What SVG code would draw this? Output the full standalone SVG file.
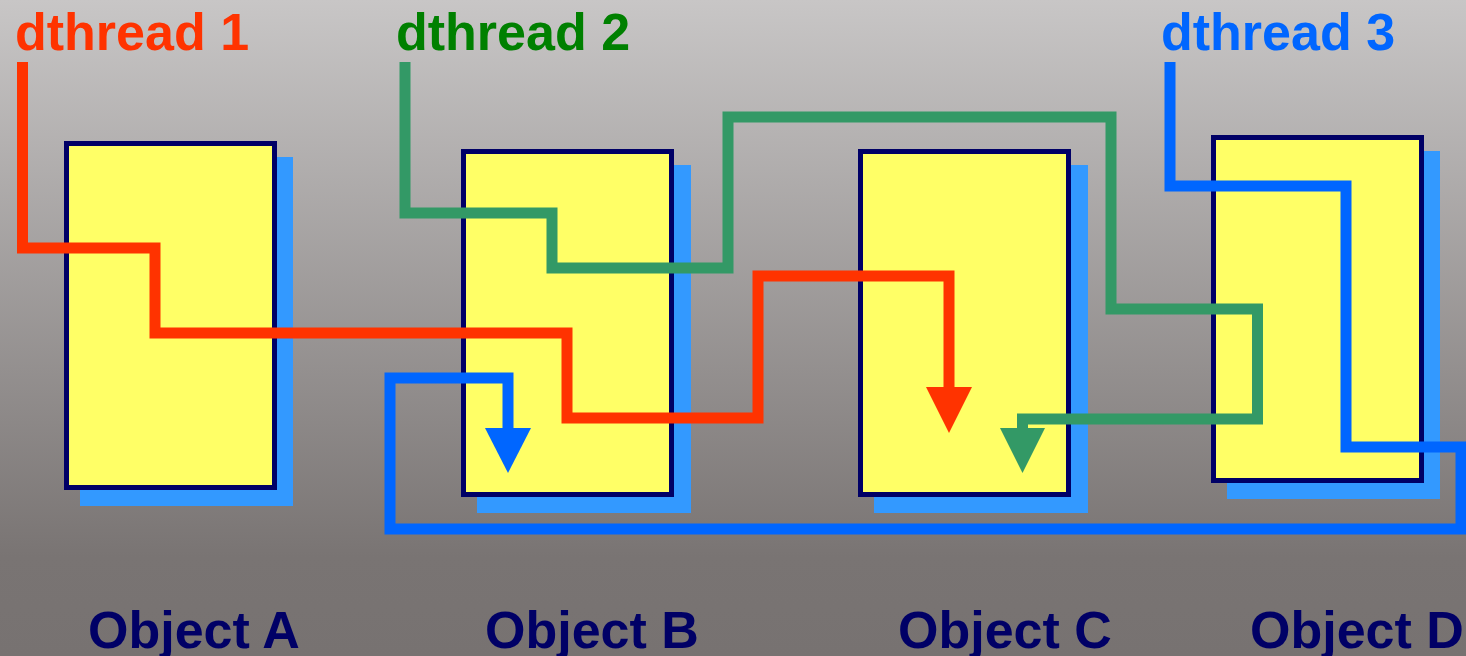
<svg xmlns="http://www.w3.org/2000/svg" width="1466" height="656" viewBox="0 0 1466 656">
<defs>
<linearGradient id="bg" x1="0" y1="0" x2="0" y2="656" gradientUnits="userSpaceOnUse">
<stop offset="0" stop-color="#c8c6c6"/>
<stop offset="0.85" stop-color="#797473"/>
<stop offset="1" stop-color="#777271"/>
</linearGradient>
<style>
.box{fill:#ffff66;stroke:#000066;stroke-width:5}
.shadow{fill:#3399ff}
.obj{font-family:"Liberation Sans",Arial,sans-serif;font-weight:bold;font-size:52px;fill:#000066}
.lbl{font-family:"Liberation Sans",Arial,sans-serif;font-weight:bold;font-size:52px}
.th{fill:none;stroke-width:11;stroke-linejoin:miter;stroke-linecap:butt}
</style>
</defs>
<rect x="0" y="0" width="1466" height="656" fill="url(#bg)"/>
<g id="objA">
<rect class="shadow" x="80" y="157" width="213" height="349"/>
<rect class="box" x="66.5" y="143.5" width="208" height="344"/>
<text class="obj" x="88" y="648">Object A</text>
</g>
<g id="objB">
<rect class="shadow" x="477" y="165" width="214" height="348"/>
<rect class="box" x="463.5" y="151.5" width="208" height="343"/>
<text class="obj" x="485" y="648">Object B</text>
</g>
<g id="objC">
<rect class="shadow" x="874" y="165" width="214" height="348"/>
<rect class="box" x="860.5" y="151.5" width="208" height="343"/>
<text class="obj" x="898" y="648">Object C</text>
</g>
<g id="objD">
<rect class="shadow" x="1227" y="151" width="213" height="348"/>
<rect class="box" x="1213.5" y="137.5" width="208" height="343"/>
<text class="obj" x="1250" y="648">Object D</text>
</g>
<g id="connectors">
<g id="thread1">
<path class="th" stroke="#ff3300" d="M22.5,62 V248 H155 V333 H567 V418 H758 V276 H949 V392"/>
<polygon fill="#ff3300" points="926,387 972,387 949,433"/>
</g>
<g id="thread2">
<path class="th" stroke="#339966" d="M405,62 V213 H552 V268 H728 V117 H1111 V309 H1257.5 V419 H1022.5 V432"/>
<polygon fill="#339966" points="1000,428 1045,428 1022.5,473"/>
</g>
<g id="thread3">
<path class="th" stroke="#0066ff" d="M1170,62 V186 H1346 V447 H1461 V529 H390 V378 H508 V432"/>
<polygon fill="#0066ff" points="485,428 531,428 508,473"/>
</g>
</g>
<g id="labels">
<text class="lbl" x="15" y="50" fill="#ff3300">dthread 1</text>
<text class="lbl" x="396" y="50" fill="#008000">dthread 2</text>
<text class="lbl" x="1161" y="50" fill="#0066ff">dthread 3</text>
</g>
</svg>
